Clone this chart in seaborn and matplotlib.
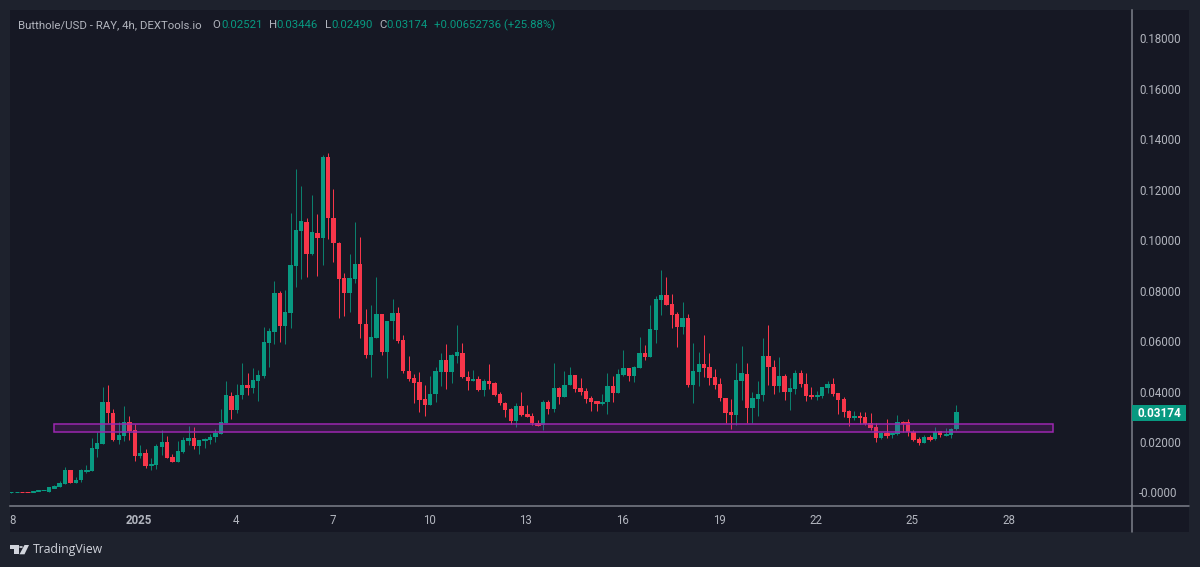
import numpy as np
import pandas as pd
import matplotlib.pyplot as plt
import seaborn as sns
from matplotlib.lines import Line2D
from matplotlib.patches import Rectangle, Polygon, Circle

opens = [.0000, .0000, .0002, .0002, .0001, .0005, .0009, .0002, .0018, .0021,
         .0032, .0089, .0039, .0048, .0086, .0085, .0172, .0193, .0357, .0316,
         .0208, .0224, .0280, .0248, .0146, .0155, .0109, .0109, .0180, .0200,
         .0141, .0122, .0162, .0204, .0216, .0184, .0208, .0209, .0219, .0232,
         .0275, .0383, .0327, .0385, .0426, .0413, .0442, .0460, .0591, .0637,
         .0789, .0659, .0711, .0897, .1036, .1072, .0946, .1029, .1009, .1330,
         .1088, .0989, .0848, .0791, .0845, .0905, .0667, .0546, .0613, .0706,
         .0556, .0679, .0710, .0604, .0482, .0452, .0438, .0370, .0347, .0389,
         .0478, .0524, .0477, .0542, .0552, .0457, .0440, .0449, .0406, .0442,
         .0434, .0390, .0356, .0329, .0283, .0343, .0310, .0303, .0274, .0267,
         .0358, .0329, .0415, .0378, .0426, .0465, .0413, .0402, .0374, .0361,
         .0356, .0357, .0422, .0394, .0465, .0493, .0461, .0493, .0552, .0537,
         .0644, .0763, .0781, .0746, .0707, .0655, .0691, .0427, .0478, .0509,
         .0497, .0456, .0430, .0374, .0318, .0307, .0440, .0469, .0335, .0369,
         .0385, .0541, .0498, .0422, .0461, .0398, .0410, .0473, .0430, .0386,
         .0382, .0382, .0413, .0430, .0394, .0370, .0323, .0295, .0303, .0299,
         .0275, .0259, .0216, .0236, .0232, .0232, .0279, .0279, .0240, .0212,
         .0196, .0220, .0212, .0242, .0228, .0228, .02521]
closes = [.0001, .0002, .0001, .0001, .0005, .0010, .0010, .0021, .0026, .0036,
          .0089, .0038, .0051, .0089, .0089, .0175, .0196, .0358, .0314, .0208,
          .0228, .0280, .0245, .0146, .0155, .0105, .0112, .0184, .0200, .0137,
          .0122, .0164, .0208, .0215, .0184, .0209, .0211, .0220, .0237, .0280,
          .0386, .0327, .0386, .0426, .0413, .0446, .0465, .0595, .0640, .0789,
          .0659, .0714, .0901, .1040, .1074, .0946, .1030, .1009, .1330, .1086,
          .0989, .0845, .0791, .0848, .0905, .0666, .0546, .0615, .0706, .0556,
          .0680, .0710, .0600, .0481, .0449, .0435, .0366, .0347, .0390, .0481,
          .0524, .0478, .0546, .0555, .0456, .0442, .0449, .0406, .0440, .0431,
          .0387, .0354, .0327, .0283, .0343, .0307, .0302, .0274, .0268, .0358,
          .0329, .0415, .0378, .0427, .0465, .0410, .0399, .0371, .0358, .0356,
          .0358, .0422, .0394, .0469, .0492, .0461, .0496, .0552, .0537, .0647,
          .0766, .0781, .0743, .0703, .0655, .0691, .0427, .0481, .0509, .0493,
          .0453, .0427, .0373, .0315, .0307, .0444, .0472, .0336, .0373, .0389,
          .0541, .0497, .0422, .0461, .0398, .0413, .0473, .0430, .0382, .0378,
          .0386, .0417, .0430, .0390, .0366, .0319, .0295, .0303, .0295, .0271,
          .0255, .0216, .0236, .0228, .0236, .0279, .0275, .0240, .0208, .0196,
          .0220, .0212, .0240, .0228, .0232, .0252, .03174]
highs = [.0002, .0002, .0002, .0002, .0005, .0010, .0010, .0021, .0030, .0044,
         .0100, .0089, .0063, .0094, .0109, .0215, .0240, .0417, .0426, .0329,
         .0278, .0344, .0304, .0270, .0189, .0171, .0137, .0192, .0246, .0225,
         .0152, .0205, .0221, .0265, .0261, .0209, .0217, .0232, .0250, .0332,
         .0442, .0397, .0430, .0512, .0473, .0492, .0485, .0657, .0653, .0838,
         .0798, .0802, .1106, .1281, .1214, .1086, .1178, .1103, .1337, .1346,
         .1201, .0993, .0868, .0943, .1072, .1012, .0727, .0743, .0853, .0706,
         .0680, .0767, .0733, .0623, .0542, .0468, .0476, .0425, .0461, .0498,
         .0552, .0588, .0548, .0663, .0591, .0481, .0484, .0461, .0451, .0508,
         .0438, .0399, .0360, .0333, .0356, .0397, .0347, .0316, .0287, .0366,
         .0366, .0512, .0419, .0481, .0497, .0465, .0455, .0415, .0382, .0364,
         .0390, .0474, .0463, .0488, .0564, .0493, .0501, .0616, .0584, .0743,
         .0778, .0881, .0853, .0786, .0716, .0753, .0706, .0592, .0555, .0625,
         .0552, .0489, .0452, .0374, .0370, .0513, .0580, .0513, .0398, .0442,
         .0612, .0663, .0525, .0537, .0469, .0453, .0485, .0485, .0473, .0418,
         .0402, .0418, .0442, .0452, .0394, .0379, .0327, .0323, .0319, .0319,
         .0315, .0275, .0240, .0291, .0236, .0307, .0283, .0291, .0248, .0220,
         .0228, .0229, .0261, .0243, .0255, .0255, .03446]
lows = [-.0001, .0000, .0001, .0001, .0000, .0005, .0009, .0002, .0018, .0021,
        .0032, .0036, .0039, .0043, .0076, .0085, .0142, .0193, .0274, .0205,
        .0192, .0205, .0208, .0126, .0135, .0098, .0089, .0093, .0149, .0135,
        .0121, .0122, .0158, .0187, .0171, .0154, .0177, .0193, .0201, .0232,
        .0275, .0291, .0314, .0370, .0386, .0395, .0364, .0455, .0498, .0588,
        .0597, .0588, .0653, .0815, .0844, .0852, .0941, .0857, .0901, .1004,
        .0913, .0692, .0699, .0716, .0828, .0611, .0534, .0459, .0613, .0546,
        .0455, .0608, .0591, .0472, .0443, .0354, .0318, .0304, .0347, .0360,
        .0422, .0410, .0435, .0512, .0453, .0406, .0440, .0403, .0382, .0410,
        .0382, .0346, .0299, .0270, .0258, .0303, .0300, .0267, .0265, .0248,
        .0311, .0320, .0350, .0378, .0426, .0398, .0386, .0353, .0323, .0324,
        .0347, .0311, .0360, .0394, .0463, .0442, .0438, .0493, .0525, .0537,
        .0592, .0703, .0741, .0651, .0576, .0628, .0419, .0356, .0422, .0456,
        .0425, .0410, .0364, .0275, .0253, .0267, .0366, .0275, .0275, .0303,
        .0362, .0426, .0390, .0398, .0365, .0327, .0389, .0418, .0362, .0370,
        .0366, .0375, .0394, .0382, .0311, .0298, .0263, .0287, .0271, .0267,
        .0248, .0200, .0212, .0216, .0217, .0228, .0240, .0224, .0204, .0188,
        .0196, .0204, .0208, .0220, .0224, .0217, .02490]

zone_low, zone_high = 0.0238, 0.0272
zone_start, zone_end = 8.0, 193.9

price_ticks = [0.0, 0.02, 0.04, 0.06, 0.08, 0.10, 0.12, 0.14, 0.16, 0.18]
price_labels = ['-0.0000', '0.02000', '0.04000', '0.06000', '0.08000',
                '0.10000', '0.12000', '0.14000', '0.16000', '0.18000']
date_ticks = [0.3, 23.8, 41.8, 59.8, 77.8, 95.8, 113.8, 131.8, 149.8, 167.8, 185.8]
date_labels = ['8', '2025', '4', '7', '10', '13', '16', '19', '22', '25', '28']

GREEN = '#089981'
GREEN_WICK = '#0b7f6d'
RED = '#f7364a'
PANEL = '#161824'
OUTER = '#1e222d'
LINE = '#7d808a'
TEXT = '#b2b5be'

sns.set_theme(style='dark')
plt.rcParams['font.family'] = ['Roboto', 'DejaVu Sans']

W, H = 1200, 567


def fx(px):
    return px / W


def fy(py):
    return 1 - py / H


fig = plt.figure(figsize=(12, 5.67), dpi=100, facecolor=OUTER)
fig.add_artist(Rectangle((fx(10), fy(532)), fx(1179), 522 / H, transform=fig.transFigure,
                         fc=PANEL, ec='none', zorder=-5))

ax = fig.add_axes([fx(10), fy(505.5), 1121.5 / W, 495.5 / H])
ax.set_facecolor(PANEL)

df = pd.DataFrame({'open': opens, 'high': highs, 'low': lows, 'close': closes})
df['idx'] = df.index
df['up'] = df['close'] >= df['open']
df['bottom'] = df[['open', 'close']].min(axis=1)
df['body'] = (df['close'] - df['open']).abs()

# wicks first, then bodies on top
wicks = ax.vlines(df['idx'], df['low'], df['high'],
                  colors=[GREEN_WICK if u else RED for u in df['up']],
                  linewidth=0.72, zorder=2)
wicks.set_snap(True)
for up, col in [(True, GREEN), (False, RED)]:
    part = df[df['up'] == up]
    sns.barplot(data=part, x='idx', y='body', bottom=part['bottom'].values, native_scale=True,
                color=col, saturation=1, width=0.8, errorbar=None, ax=ax, zorder=3,
                edgecolor=col, linewidth=0)

# flat bodies still need one visible pixel
for p in ax.patches:
    if p.get_height() < 0.0008:
        p.set_linewidth(0.72)

ax.add_patch(Rectangle((zone_start, zone_low), zone_end - zone_start, zone_high - zone_low,
                       fc=(0.61, 0.15, 0.69, 0.2), ec='#9c27b0', lw=1.1, zorder=4))

ax.set_xlim(-0.24, 208.6)
ax.set_ylim(-0.00515, 0.1911)
ax.set_xlabel('')
ax.set_ylabel('')
ax.grid(False)
for s in ['top', 'left']:
    ax.spines[s].set_visible(False)
for s in ['right', 'bottom']:
    ax.spines[s].set_visible(True)
    ax.spines[s].set_color(LINE)
    ax.spines[s].set_linewidth(1.1)

ax.yaxis.tick_right()
ax.set_yticks(price_ticks, price_labels)
ax.set_xticks(date_ticks, date_labels)
ax.tick_params(axis='y', length=0, pad=5.5, labelsize=8.3, colors=TEXT)
ax.tick_params(axis='x', length=0, pad=6, labelsize=8.3, colors=TEXT)
ax.get_xticklabels()[1].set_fontweight('bold')

# axis lines run on to the edge of the panel
fig.add_artist(Line2D([fx(1131.5), fx(1131.5)], [fy(505), fy(532)], color=LINE, lw=1.1))
fig.add_artist(Line2D([fx(1131), fx(1189)], [fy(505.5), fy(505.5)], color=LINE, lw=1.1))

# last price tag
fig.add_artist(Rectangle((fx(1132), fy(421)), 54 / W, 16 / H, transform=fig.transFigure,
                         fc=GREEN, ec='none', zorder=6))
fig.text(fx(1159), fy(413.2), f'{closes[-1]:.5f}', color='white', fontsize=8.5, fontweight='bold',
         ha='center', va='center', zorder=7)

# header
header = [(18, 'Butthole/USD - RAY, 4h, DEXTools.io', TEXT), (212, 'O', TEXT),
          (221, '0.02521', GREEN), (269, 'H', TEXT), (276.5, '0.03446', GREEN),
          (324.5, 'L', TEXT), (331, '0.02490', GREEN), (379, 'C', TEXT), (386.5, '0.03174', GREEN),
          (434, '+0.00652736 (+25.88%)', GREEN)]
for px, s, col in header:
    fig.text(fx(px), fy(25.5), s, color=col, fontsize=8.2, ha='left', va='center')

# TradingView mark
logo = [
    Polygon([(10, 545), (18.5, 545), (18.5, 554.3), (14, 554.3), (14, 549), (10, 549)]),
    Polygon([(24.5, 545), (29, 545), (24.5, 554.3), (19.5, 554.3)]),
]
for p in logo:
    p.set_xy([(fx(a), fy(b)) for a, b in p.get_xy()])
    p.set(transform=fig.transFigure, fc='#d1d4dc', ec='none')
    fig.add_artist(p)
fig.add_artist(Circle((fx(21), fy(547)), 1.9 / W, transform=fig.transFigure, fc='#d1d4dc', ec='none'))
fig.text(fx(33), fy(550), 'TradingView', color='#d1d4dc', fontsize=8.8, family=['Open Sans', 'DejaVu Sans'],
         ha='left', va='center')

fig.savefig('out.png', dpi=100, facecolor=OUTER)
